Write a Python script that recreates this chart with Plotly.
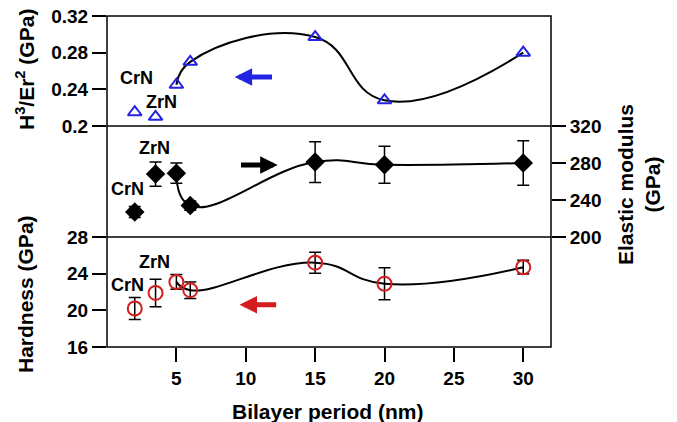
import plotly.graph_objects as go

# Data
period = [2, 3.5, 5, 6, 15, 20, 30]
h3er2 = [0.215, 0.210, 0.245, 0.270, 0.297, 0.228, 0.280]
modulus = [227, 268, 269, 234, 281, 278, 280]
modulus_err = [6, 13, 11, 5, 22, 20, 24]
hardness = [20.2, 21.9, 23.1, 22.2, 25.2, 22.9, 24.7]
hardness_err = [1.2, 1.5, 0.8, 0.9, 1.15, 1.75, 0.75]

x_ticks = [5, 10, 15, 20, 25, 30]
h3_ticks = [0.2, 0.24, 0.28, 0.32]
h3_labels = ["0.2", "0.24", "0.28", "0.32"]
mod_ticks = [200, 240, 280, 320]
hard_ticks = [16, 20, 24, 28]

BLUE = "rgb(35,35,225)"
RED = "rgb(210,30,30)"
FAM = "Liberation Sans, Arial, sans-serif"
FONT = dict(family=FAM, size=19, color="black", weight="bold")

fig = go.Figure()

# Top: H3/Er2
fig.add_trace(go.Scatter(x=period[2:], y=h3er2[2:], mode="lines", line=dict(color="black", width=2, shape="spline", smoothing=1.3),
                         xaxis="x", yaxis="y3", hoverinfo="skip"))
fig.add_trace(go.Scatter(x=period, y=h3er2, mode="markers",
                         marker=dict(symbol="triangle-up-open", size=12, color=BLUE, line=dict(width=2, color=BLUE)),
                         xaxis="x", yaxis="y3"))

# Middle: modulus
fig.add_trace(go.Scatter(x=period[2:], y=modulus[2:], mode="lines", line=dict(color="black", width=2, shape="spline", smoothing=1.3),
                         xaxis="x", yaxis="y2", hoverinfo="skip"))
fig.add_trace(go.Scatter(x=period, y=modulus, mode="markers",
                         marker=dict(symbol="diamond", size=15, color="black"),
                         error_y=dict(type="data", array=modulus_err, color="black", thickness=1.5, width=6),
                         xaxis="x", yaxis="y2"))

# Bottom: hardness
fig.add_trace(go.Scatter(x=period[2:], y=hardness[2:], mode="lines", line=dict(color="black", width=2, shape="spline", smoothing=1.3),
                         xaxis="x", yaxis="y", hoverinfo="skip"))
fig.add_trace(go.Scatter(x=period, y=hardness, mode="markers",
                         marker=dict(symbol="circle-open", size=14, color=RED, line=dict(width=2, color=RED)),
                         error_y=dict(type="data", array=hardness_err, color="black", thickness=1.5, width=6),
                         xaxis="x", yaxis="y"))

L, R, T, B = 107, 126, 16, 75
H = 422 - T - B
W = 677 - L - R
d1 = 110 / H
d2 = 221 / H

common_y = dict(showgrid=False, zeroline=False, ticks="outside", ticklen=14, tickwidth=1.5, tickcolor="black",
                tickfont=FONT, showline=False, fixedrange=True, automargin=False)

fig.update_layout(
    width=677, height=422,
    margin=dict(l=L, r=R, t=T, b=B, autoexpand=False),
    paper_bgcolor="white", plot_bgcolor="white",
    showlegend=False,
    xaxis=dict(range=[0, 32], tickvals=x_ticks, showgrid=False, zeroline=False, ticks="outside", ticklen=14,
               tickwidth=1.5, tickcolor="black", tickfont=FONT, showline=False, anchor="y", automargin=False),
    yaxis=dict(domain=[0, d1], range=[16, 28], tickvals=hard_ticks, side="left", anchor="x", **common_y),
    yaxis2=dict(domain=[d1, d2], range=[200, 320], tickvals=mod_ticks, side="right", anchor="x", **common_y),
    yaxis3=dict(domain=[d2, 1], range=[0.2, 0.32], tickvals=h3_ticks, ticktext=h3_labels, side="left", anchor="x", **common_y),
)

# Frame and dividers
line = dict(color="black", width=1.5)
fig.add_shape(type="rect", xref="paper", yref="paper", x0=0, x1=1, y0=0, y1=1, line=line, layer="above")
for yy in [d1, d2]:
    fig.add_shape(type="line", xref="paper", yref="paper", x0=0, x1=1, y0=yy, y1=yy, line=line, layer="above")

# Arrows
fig.add_annotation(x=9.2, y=0.2534, xref="x", yref="y3", ax=12.0, ay=0.2534, axref="x", ayref="y3",
                   showarrow=True, arrowhead=2, arrowsize=0.7, arrowwidth=5, arrowcolor=BLUE, text="")
fig.add_annotation(x=12.3, y=277.8, xref="x", yref="y2", ax=9.55, ay=277.8, axref="x", ayref="y2",
                   showarrow=True, arrowhead=2, arrowsize=0.7, arrowwidth=5, arrowcolor="black", text="")
fig.add_annotation(x=9.55, y=20.6, xref="x", yref="y", ax=12.3, ay=20.6, axref="x", ayref="y",
                   showarrow=True, arrowhead=2, arrowsize=0.7, arrowwidth=5, arrowcolor=RED, text="")

# Labels
LBL = dict(family=FAM, size=18, color="black", weight="bold")
for x, y, ref, t in [(2.1, 0.2523, "y3", "CrN"), (3.9, 0.226, "y3", "ZrN"),
                     (3.4, 296, "y2", "ZrN"), (1.45, 252, "y2", "CrN"),
                     (3.4, 25.3, "y", "ZrN"), (1.45, 22.8, "y", "CrN")]:
    fig.add_annotation(x=x, y=y, xref="x", yref=ref, text=t, showarrow=False, font=LBL)

# Axis titles
TF = dict(family=FAM, size=21, color="black", weight="bold")
fig.add_annotation(x=(25 - L) / W, y=(347 - 70) / H, xref="paper", yref="paper", text="H<sup>3</sup>/Er<sup>2</sup> (GPa)",
                   textangle=-90, showarrow=False, font=TF, xanchor="center", yanchor="middle")
fig.add_annotation(x=(25 - L) / W, y=(347 - 294) / H, xref="paper", yref="paper", text="Hardness (GPa)",
                   textangle=-90, showarrow=False, font=TF, xanchor="center", yanchor="middle")
fig.add_annotation(x=(639 - L) / W, y=(347 - 185) / H, xref="paper", yref="paper", text="Elastic modulus<br>(GPa)",
                   textangle=-90, showarrow=False, font=TF, xanchor="center", yanchor="middle")
fig.add_annotation(x=(327 - L) / W, y=(347 - 411) / H, xref="paper", yref="paper", text="Bilayer period (nm)",
                   showarrow=False, font=TF, xanchor="center", yanchor="middle")

fig.write_html("out.html", config={"displayModeBar": False})

# remove default page margin so the figure sits at the window's top-left corner
with open("out.html", "r", encoding="utf-8") as f:
    html = f.read()
html = html.replace("<head>", "<head><style>html,body{margin:0;padding:0;overflow:hidden;}</style>", 1)
with open("out.html", "w", encoding="utf-8") as f:
    f.write(html)
